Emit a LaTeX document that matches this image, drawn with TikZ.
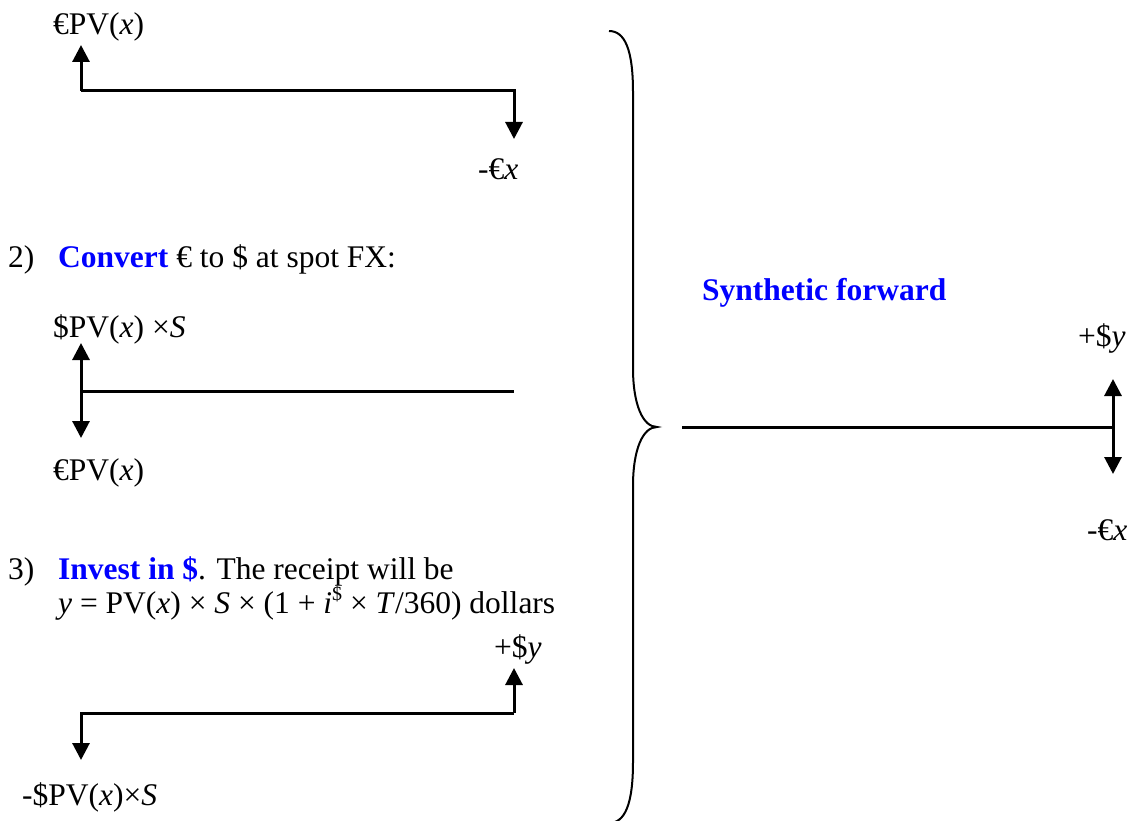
\documentclass[tikz,border=0pt]{standalone}
\usepackage{fontspec}
\setmainfont{Liberation Serif}
\usetikzlibrary{arrows.meta}
\begin{document}
\begin{tikzpicture}[x=1pt,y=-1pt,
  txt/.style={inner sep=0pt, anchor=base west, font=\fontsize{31.5}{37}\selectfont},
  flow/.style={line width=3pt, line join=miter},
  tipped/.style={-{Triangle[length=17pt 0 0,width=17pt 0 0]}},
  bracestyle/.style={line width=2pt}]
\useasboundingbox (0,0) rectangle (1133,821);

% ---------- Panel 1 ----------
\node[txt] (t1a) at (53,35) {€PV(\textit{x})};
\node[txt] (t1b) at (478,180) {-€\textit{x}};
\coordinate (c1L) at (81,91);
\coordinate (c1Lt) at (81,45);
\coordinate (c1R) at (514,91);
\coordinate (c1Rt) at (514,139);
\draw[flow,tipped] (c1L) -- (c1Lt);
\draw[flow,tipped] (c1L) -- (c1R) -- (c1Rt);

% ---------- Panel 2 ----------
\node[txt] (n2) at (8,268) {2)};
\node[txt] (t2) at (58,268) {\textbf{\color{blue}Convert} € to \$ at spot FX:};
\node[txt] (t2a) at (53,337) {\$PV(\textit{x}) ×\textit{S}};
\node[txt] (t2b) at (53,480) {€PV(\textit{x})};
\coordinate (c2L) at (81,391);
\coordinate (c2Lu) at (81,343);
\coordinate (c2Ld) at (81,438);
\coordinate (c2R) at (514,391);
\draw[flow,tipped] (c2L) -- (c2Lu);
\draw[flow,tipped] (c2L) -- (c2Ld);
\draw[flow] (c2L) -- (c2R);

% ---------- Panel 3 ----------
\node[txt] (n3) at (8,579) {3)};
\node[txt] (t3) at (58,579) {\textbf{\color{blue}Invest in \$}. The receipt will be};
\node[txt] (t3l2) at (58,613) {\textit{y} = PV(\textit{x}) × \textit{S} × (1 + \textit{i}\raisebox{13pt}{\fontsize{20}{20}\selectfont\$} × \textit{T}/360) dollars};
\node[txt] (t3a) at (494,657) {+\$\textit{y}};
\node[txt] (t3b) at (22,805) {-\$PV(\textit{x})×\textit{S}};
\coordinate (c3L) at (81,713);
\coordinate (c3Ld) at (81,760);
\coordinate (c3R) at (514,713);
\coordinate (c3Ru) at (514,668);
\draw[flow,tipped] (c3R) -- (c3L) -- (c3Ld);
\draw[flow,tipped] (c3R) -- (c3Ru);

% ---------- Brace ----------
\coordinate (bTop) at (609,31);
\coordinate (bMid) at (657,427);
\coordinate (bBot) at (609,823);
\draw[bracestyle] (bTop) .. controls (625,31) and (633,50) .. (633,92)
  -- (633,368) .. controls (633,405) and (643,427) .. (bMid)
  .. controls (643,427) and (633,449) .. (633,486)
  -- (633,762) .. controls (633,804) and (625,823) .. (bBot);

% ---------- Synthetic forward ----------
\node[txt] (sf) at (702,300) {\textbf{\color{blue}Synthetic forward}};
\node[txt] (sfa) at (1078,346) {+\$\textit{y}};
\node[txt] (sfb) at (1087,540) {-€\textit{x}};
\coordinate (c4L) at (682,427);
\coordinate (c4R) at (1113,427);
\coordinate (c4Ru) at (1113,379);
\coordinate (c4Rd) at (1113,474);
\draw[flow] (c4L) -- (c4R);
\draw[flow,tipped] (c4R) -- (c4Ru);
\draw[flow,tipped] (c4R) -- (c4Rd);
\end{tikzpicture}
\end{document}
